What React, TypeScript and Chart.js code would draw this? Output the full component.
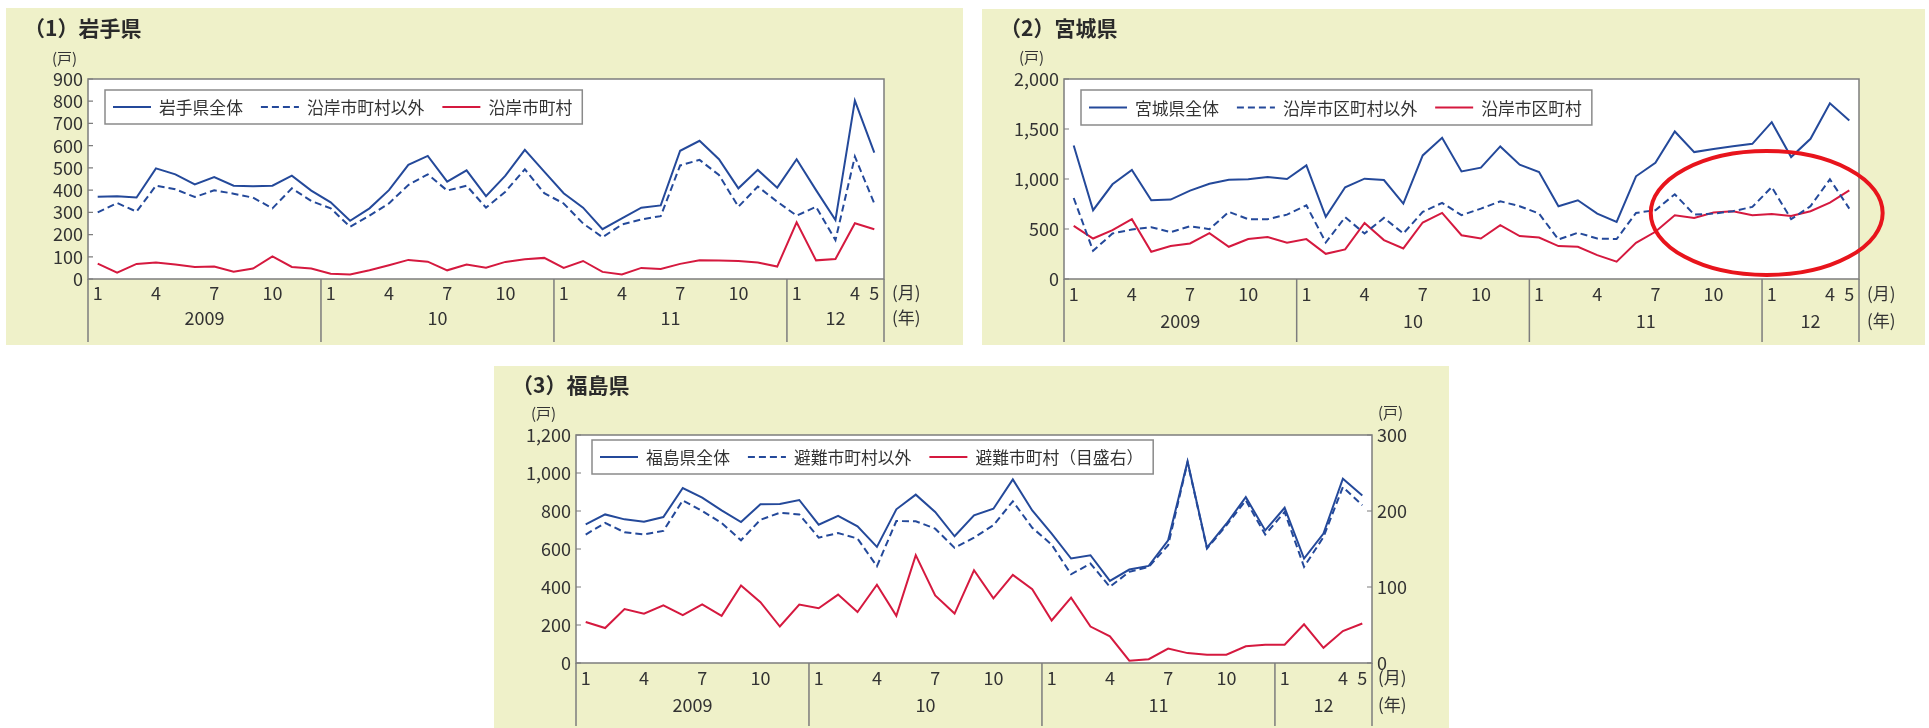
import React, { useEffect, useRef } from 'react';
import { Chart, registerables } from 'chart.js';

Chart.register(...registerables);

// ---------- categories ----------
const monthLabels = [
  '1', '2', '3', '4', '5', '6', '7', '8', '9', '10', '11', '12',
  '1', '2', '3', '4', '5', '6', '7', '8', '9', '10', '11', '12',
  '1', '2', '3', '4', '5', '6', '7', '8', '9', '10', '11', '12',
  '1', '2', '3', '4', '5',
];
const monthTickLabels = [
  '1', '', '', '4', '', '', '7', '', '', '10', '', '',
  '1', '', '', '4', '', '', '7', '', '', '10', '', '',
  '1', '', '', '4', '', '', '7', '', '', '10', '', '',
  '1', '', '', '4', '5',
];
const yearLabels = ['2009', '10', '11', '12'];

// ---------- (1) 岩手県 ----------
const iwateTotal = [
  370, 372, 367, 498, 471, 426, 459, 420, 417, 420, 465, 398,
  345, 262, 318, 400, 514, 554, 438, 489, 373, 465, 581, 483,
  386, 321, 224, 273, 321, 331, 577, 622, 539, 408, 491, 411,
  539, 400, 265, 803, 569,
];
const iwateNonCoastal = [
  300, 342, 303, 420, 404, 369, 399, 384, 366, 318, 408, 351,
  318, 235, 285, 340, 423, 471, 398, 420, 321, 393, 494, 386,
  340, 250, 188, 245, 268, 283, 511, 536, 468, 325, 416, 348,
  285, 325, 175, 551, 340,
];
const iwateCoastal = [
  69, 29, 68, 74, 65, 54, 56, 33, 47, 102, 54, 47,
  24, 20, 39, 62, 86, 78, 39, 65, 51, 77, 89, 95,
  50, 81, 32, 20, 50, 45, 68, 84, 83, 81, 74, 56,
  255, 84, 90, 251, 224,
];

// ---------- (2) 宮城県 ----------
const miyagiTotal = [
  1335, 688, 947, 1090, 787, 794, 884, 953, 993, 997, 1020, 1000,
  1136, 621, 917, 1003, 990, 754, 1236, 1412, 1076, 1113, 1326, 1143,
  1070, 728, 787, 654, 571, 1027, 1163, 1475, 1269, 1300, 1328, 1352,
  1568, 1219, 1402, 1757, 1585,
];
const miyagiNonCoastal = [
  810, 282, 455, 495, 518, 468, 528, 498, 671, 598, 598, 644,
  737, 365, 618, 455, 611, 455, 671, 761, 638, 704, 777, 728,
  654, 395, 462, 405, 399, 661, 688, 847, 644, 654, 678, 721,
  920, 598, 728, 997, 704,
];
const miyagiCoastal = [
  531, 405, 488, 598, 272, 329, 355, 458, 322, 399, 419, 362,
  399, 252, 296, 561, 389, 306, 565, 661, 438, 405, 538, 429,
  415, 329, 322, 239, 173, 362, 472, 638, 611, 664, 678, 638,
  651, 631, 678, 764, 887,
];

// ---------- (3) 福島県 ----------
const fukushimaTotal = [
  730, 782, 756, 744, 768, 921, 870, 803, 742, 835, 837, 858,
  728, 775, 719, 611, 809, 886, 795, 667, 777, 812, 966, 803,
  681, 550, 567, 432, 492, 511, 646, 1061, 607, 733, 873, 698,
  817, 550, 681, 970, 882,
];
const fukushimaNonEvac = [
  676, 737, 688, 677, 695, 856, 800, 737, 646, 754, 791, 782,
  660, 684, 655, 509, 747, 746, 707, 606, 660, 725, 851, 712,
  623, 467, 523, 401, 480, 506, 620, 1057, 602, 725, 856, 676,
  795, 506, 663, 926, 830,
];
const fukushimaEvac = [
  54, 46, 71, 65, 76, 63, 77, 62, 102, 80, 48, 77,
  72, 90, 67, 103, 62, 142, 89, 65, 122, 85, 116, 97,
  56, 86, 48, 35, 3, 5, 19, 13, 11, 11, 22, 24,
  24, 51, 20, 42, 52,
];

// ---------- styles ----------
const FONT = '"Noto Sans CJK JP", "Noto Sans", sans-serif';
const TEXT = '#333333';
const CREAM = '#eff1c9';
const FRAME = '#7d7d7d';
const BLUE = '#24499a';
const RED = '#d5193f';
const DASH = [7, 4];

type PanelCfg = {
  left: number; top: number; width: number; height: number;
  padTop: number; padRight: number; xH: number; yW: number; y2W?: number; tickPad: number;
  title: string; titleX: number; titleY: number;
  unitL: [number, number]; unitR?: [number, number];
  legend: { x: number; y: number; h: number };
  extBottom: number; monthY: number; yearY: number; unitX: number;
  yMax: number; yStep: number; y2Max?: number; y2Step?: number;
  ellipse?: { c: number; v: number; cs: number; vs: number };
  datasets: any[];
};

const fmt = (v: any) => Number(v).toLocaleString('en-US');

function makeDecor(cfg: PanelCfg) {
  return {
    id: 'decor',
    beforeDraw(chart: any) {
      const { ctx, chartArea: a, width, height } = chart;
      ctx.save();
      ctx.fillStyle = CREAM;
      ctx.fillRect(0, 0, width, height);
      ctx.fillStyle = '#ffffff';
      ctx.fillRect(a.left, a.top, a.right - a.left, a.bottom - a.top);
      ctx.restore();
    },
    afterDraw(chart: any) {
      const ctx = chart.ctx;
      const a = chart.chartArea;
      const xs = chart.scales.x;
      const ys = chart.scales.y;
      const y2 = chart.scales.y2;
      const ox = cfg.left;
      const oy = cfg.top;
      ctx.save();
      // frame
      ctx.strokeStyle = FRAME;
      ctx.lineWidth = 1.5;
      ctx.strokeRect(a.left, a.top, a.right - a.left, a.bottom - a.top);
      // year dividers
      const half = (xs.getPixelForValue(1) - xs.getPixelForValue(0)) / 2;
      const bounds: number[] = [a.left];
      monthLabels.forEach((m, i) => {
        if (i > 0 && m === '1') bounds.push(xs.getPixelForValue(i) - half);
      });
      bounds.push(a.right);
      const ext = cfg.extBottom - oy;
      ctx.beginPath();
      bounds.forEach((b) => {
        ctx.moveTo(b, a.bottom);
        ctx.lineTo(b, ext);
      });
      ctx.stroke();
      // inward tick marks
      ctx.lineWidth = 1.2;
      ctx.beginPath();
      ys.ticks.forEach((t: any) => {
        const p = ys.getPixelForValue(t.value);
        ctx.moveTo(a.left, p);
        ctx.lineTo(a.left + 5, p);
      });
      if (y2) {
        y2.ticks.forEach((t: any) => {
          const p = y2.getPixelForValue(t.value);
          ctx.moveTo(a.right, p);
          ctx.lineTo(a.right - 5, p);
        });
      }
      ctx.stroke();
      // year labels
      ctx.fillStyle = TEXT;
      ctx.textBaseline = 'middle';
      ctx.textAlign = 'center';
      ctx.font = `18px ${FONT}`;
      yearLabels.forEach((yl, k) => {
        ctx.fillText(yl, (bounds[k] + bounds[k + 1]) / 2, cfg.yearY - oy);
      });
      // (月) (年)
      ctx.textAlign = 'left';
      ctx.font = `17px ${FONT}`;
      ctx.fillText('(月)', cfg.unitX - ox, cfg.monthY - oy);
      ctx.fillText('(年)', cfg.unitX - ox, cfg.yearY - oy);
      // (戸)
      ctx.font = `15px ${FONT}`;
      ctx.fillText('(戸)', cfg.unitL[0] - ox, cfg.unitL[1] - oy);
      if (cfg.unitR) ctx.fillText('(戸)', cfg.unitR[0] - ox, cfg.unitR[1] - oy);
      // title
      ctx.font = `bold 21px ${FONT}`;
      ctx.fillStyle = '#2a2a2a';
      ctx.fillText(cfg.title, cfg.titleX - ox, cfg.titleY - oy);
      // legend
      const lg = cfg.legend;
      const lx = lg.x - ox;
      const ly = lg.y - oy;
      const cy = ly + lg.h / 2;
      ctx.font = `16.8px ${FONT}`;
      let cx = lx + 8;
      chart.data.datasets.forEach((ds: any, k: number) => {
        ctx.strokeStyle = ds.borderColor;
        ctx.lineWidth = 2;
        ctx.setLineDash(ds.borderDash || []);
        ctx.beginPath();
        ctx.moveTo(cx, cy);
        ctx.lineTo(cx + 38, cy);
        ctx.stroke();
        ctx.setLineDash([]);
        cx += 46;
        ctx.fillStyle = TEXT;
        ctx.fillText(ds.label, cx, cy + 1);
        cx += ctx.measureText(ds.label).width;
        if (k < chart.data.datasets.length - 1) cx += 18;
      });
      ctx.strokeStyle = '#8a8a8a';
      ctx.lineWidth = 1.5;
      ctx.strokeRect(lx, ly, cx + 10 - lx, lg.h);
      // annotation ellipse
      if (cfg.ellipse) {
        const e = cfg.ellipse;
        const ex = xs.getPixelForValue(e.c);
        const ey = ys.getPixelForValue(e.v);
        const rx = xs.getPixelForValue(e.c + e.cs) - ex;
        const ry = ys.getPixelForValue(e.v) - ys.getPixelForValue(e.v + e.vs);
        ctx.strokeStyle = '#e8141c';
        ctx.lineWidth = 4;
        ctx.beginPath();
        ctx.ellipse(ex, ey, rx, ry, 0, 0, Math.PI * 2);
        ctx.stroke();
      }
      ctx.restore();
    },
  };
}

function Panel({ cfg }: { cfg: PanelCfg }) {
  const ref = useRef<HTMLCanvasElement | null>(null);
  useEffect(() => {
    if (!ref.current) return;
    const tickFont = { family: FONT, size: 18 };
    const yTickFont = { family: FONT, size: 18, lineHeight: 1 };
    const scales: any = {
      x: {
        type: 'category',
        offset: true,
        grid: { display: false, drawTicks: false },
        border: { display: false },
        ticks: { autoSkip: false, maxRotation: 0, minRotation: 0, padding: cfg.tickPad, font: tickFont, color: TEXT },
        afterFit: (s: any) => { s.height = cfg.xH; },
      },
      y: {
        position: 'left',
        min: 0,
        max: cfg.yMax,
        grid: { display: false, drawTicks: false },
        border: { display: false },
        ticks: { stepSize: cfg.yStep, autoSkip: false, maxTicksLimit: 20, padding: 5, font: yTickFont, color: TEXT, callback: fmt },
        afterFit: (s: any) => { s.width = cfg.yW; },
      },
    };
    if (cfg.y2Max) {
      scales.y2 = {
        position: 'right',
        min: 0,
        max: cfg.y2Max,
        grid: { display: false, drawTicks: false },
        border: { display: false },
        ticks: { stepSize: cfg.y2Step, autoSkip: false, maxTicksLimit: 20, padding: 5, font: yTickFont, color: TEXT, callback: fmt },
        afterFit: (s: any) => { s.width = cfg.y2W; },
      };
    }
    const chart = new Chart(ref.current, {
      type: 'line',
      data: { labels: monthTickLabels, datasets: cfg.datasets },
      options: {
        animation: false,
        responsive: false,
        layout: { padding: { top: cfg.padTop, right: cfg.padRight, left: 0, bottom: 0 } },
        plugins: { legend: { display: false }, tooltip: { enabled: false }, title: { display: false } },
        elements: { point: { radius: 0 }, line: { tension: 0, borderWidth: 2 } },
        scales,
      },
      plugins: [makeDecor(cfg)],
    } as any);
    return () => chart.destroy();
  }, [cfg]);
  return (
    <canvas
      ref={ref}
      width={cfg.width}
      height={cfg.height}
      style={{ position: 'absolute', left: cfg.left, top: cfg.top, width: cfg.width, height: cfg.height }}
    />
  );
}

const solid = (label: string, data: number[], color: string, axis = 'y') => ({
  label, data, borderColor: color, backgroundColor: color, borderWidth: 2, fill: false, yAxisID: axis,
});
const dashed = (label: string, data: number[], color: string) => ({
  label, data, borderColor: color, backgroundColor: color, borderWidth: 2, borderDash: DASH, fill: false, yAxisID: 'y',
});

const panels: PanelCfg[] = [
  {
    left: 6, top: 8, width: 957, height: 337,
    padTop: 71, padRight: 79, xH: 66, yW: 82, tickPad: 3,
    title: '（1）岩手県', titleX: 24, titleY: 28,
    unitL: [52, 58],
    legend: { x: 105, y: 90, h: 34 },
    extBottom: 342, monthY: 293, yearY: 318, unitX: 892,
    yMax: 900, yStep: 100,
    datasets: [
      solid('岩手県全体', iwateTotal, BLUE),
      dashed('沿岸市町村以外', iwateNonCoastal, BLUE),
      solid('沿岸市町村', iwateCoastal, RED),
    ],
  },
  {
    left: 982, top: 9, width: 943, height: 336,
    padTop: 70, padRight: 66, xH: 66, yW: 82, tickPad: 4,
    title: '（2）宮城県', titleX: 1000, titleY: 28,
    unitL: [1019, 57],
    legend: { x: 1081, y: 90, h: 35 },
    extBottom: 342, monthY: 294, yearY: 321, unitX: 1867,
    yMax: 2000, yStep: 500,
    ellipse: { c: 35.74, v: 660, cs: 5.98, vs: 620 },
    datasets: [
      solid('宮城県全体', miyagiTotal, BLUE),
      dashed('沿岸市区町村以外', miyagiNonCoastal, BLUE),
      solid('沿岸市区町村', miyagiCoastal, RED),
    ],
  },
  {
    left: 494, top: 366, width: 955, height: 362,
    padTop: 69, padRight: 0, xH: 65, yW: 82, y2W: 77, tickPad: 4,
    title: '（3）福島県', titleX: 512, titleY: 385,
    unitL: [531, 413], unitR: [1378, 412],
    legend: { x: 592, y: 440, h: 34 },
    extBottom: 726, monthY: 678, yearY: 705, unitX: 1378,
    yMax: 1200, yStep: 200, y2Max: 300, y2Step: 100,
    datasets: [
      solid('福島県全体', fukushimaTotal, BLUE),
      dashed('避難市町村以外', fukushimaNonEvac, BLUE),
      solid('避難市町村（目盛右）', fukushimaEvac, RED, 'y2'),
    ],
  },
];

export default function App() {
  return (
    <div style={{ position: 'absolute', left: 0, top: 0, width: 1929, height: 728, background: '#ffffff', overflow: 'hidden' }}>
      {panels.map((p, i) => (
        <Panel key={i} cfg={p} />
      ))}
    </div>
  );
}
